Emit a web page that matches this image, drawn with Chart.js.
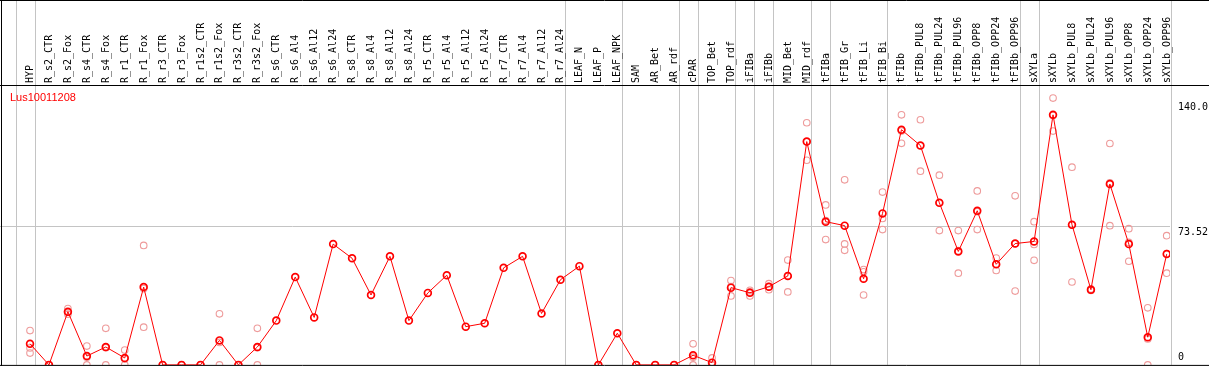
<!DOCTYPE html>
<html>
<head>
<meta charset="utf-8">
<script src="https://cdn.jsdelivr.net/npm/chart.js@4"></script>
<style>
  html, body { margin: 0; padding: 0; background: #fff; }
  #chart { display: block; }
</style>
</head>
<body>
<canvas id="chart" width="1209" height="370"></canvas>
<script>
const geneName = "Lus10011208";

const samples = [
  "HYP", "R_s2_CTR", "R_s2_Fox", "R_s4_CTR", "R_s4_Fox", "R_r1_CTR", "R_r1_Fox",
  "R_r3_CTR", "R_r3_Fox", "R_r1s2_CTR", "R_r1s2_Fox", "R_r3s2_CTR", "R_r3s2_Fox",
  "R_s6_CTR", "R_s6_Al4", "R_s6_Al12", "R_s6_Al24", "R_s8_CTR", "R_s8_Al4",
  "R_s8_Al12", "R_s8_Al24", "R_r5_CTR", "R_r5_Al4", "R_r5_Al12", "R_r5_Al24",
  "R_r7_CTR", "R_r7_Al4", "R_r7_Al12", "R_r7_Al24", "LEAF_N", "LEAF_P", "LEAF_NPK",
  "SAM", "AR_Bet", "AR_rdf", "cPAR", "TOP_Bet", "TOP_rdf", "iFIBa", "iFIBb",
  "MID_Bet", "MID_rdf", "tFIBa", "tFIB_Gr", "tFIB_Li", "tFIB_Bi", "tFIBb",
  "tFIBb_PUL8", "tFIBb_PUL24", "tFIBb_PUL96", "tFIBb_OPP8", "tFIBb_OPP24", "tFIBb_OPP96",
  "sXYLa", "sXYLb", "sXYLb_PUL8", "sXYLb_PUL24", "sXYLb_PUL96", "sXYLb_OPP8",
  "sXYLb_OPP24", "sXYLb_OPP96"
];

// mean expression per sample
const meanValues = [
  11.2, 0, 28.2, 4.7, 9.5, 3.7, 41.3, 0, 0, 0, 13.0, 0, 9.5,
  23.5, 46.6, 25.2, 64.1, 56.6, 37.1, 57.6, 23.5, 38.2, 47.6, 20.3, 22.1,
  51.5, 57.6, 27.3, 45.2, 52.4, 0, 16.8, 0, 0, 0, 5.1, 1.2, 41.0, 38.3, 41.5,
  47.2, 118.5, 76.0, 73.9, 45.7, 80.4, 124.8, 116.4, 86.0, 60.2, 81.8, 53.4, 64.4,
  65.5, 132.7, 74.4, 39.9, 96.0, 64.1, 14.7, 58.8
];

// replicates (null = no replicate shown)
const repA = [
  18.2, 0, 29.9, 10.0, 19.4, 7.9, 63.4, 0, 0, 0, 27.1, 0, 19.4,
  null, null, null, null, null, null, null, null, null, null, null, null,
  null, null, null, null, null, 0, null, 0, 0, 0, 11.2, 3.7, 44.8, 39.6, 43.1,
  55.6, 128.5, 84.9, 98.2, 50.6, 91.7, 132.7, 130.1, 100.7, 71.3, 92.3, 56.7, 89.7,
  76.0, 141.6, 104.9, 40.3, 117.5, 72.3, 30.3, 68.6
];
const repB = [
  6.3, 0, 26.9, 0, 0, 0, 20.0, 0, 0, 0, 0, 0, 0,
  null, null, null, null, null, null, null, null, null, null, null, null,
  null, null, null, null, null, 0, null, 0, 0, 0, 0, 0, 36.6, 36.6, 39.9,
  38.7, 108.6, 66.5, 60.8, 37.1, 71.8, 117.6, 102.8, 71.3, 48.7, 71.8, 50.1, 39.2,
  55.5, 124.1, 44.0, 39.5, 73.9, 55.0, 0, 48.7
];
const repC = [
  9.0, 0, 27.8, 4.1, 9.1, 3.2, 40.5, 0, 0, 0, 11.9, 0, 9.1,
  null, null, null, null, null, null, null, null, null, null, null, null,
  null, null, null, null, null, 0, null, 0, 0, 0, 4.1, 0, 41.6, 38.7, 41.5,
  47.3, 118.4, 76.6, 64.2, 49.4, 77.7, 124.1, 116.3, 86.0, 60.6, 81.3, 53.4, 64.3,
  63.9, 132.4, 74.3, 39.9, 96.6, 65.0, 13.8, 59.1
];

// last sample index of each group (separator lines)
const groupEnds = [-1, 0, 28, 31, 34, 35, 37, 38, 39, 41, 42, 45, 52, 53, 60];

const yTicks = [0, 73.52, 140];
const yTickLabels = ["0", "73.52", "140.0"];

const toPoints = (arr) =>
  arr.map((v, i) => (v === null ? null : { x: i, y: v })).filter((p) => p);

const framePlugin = {
  id: "frame",
  beforeDraw(chart) {
    const { ctx, width, height } = chart;
    ctx.save();
    ctx.fillStyle = "#fff";
    ctx.fillRect(0, 0, width, height);
    ctx.restore();
  },
  beforeDatasetsDraw(chart) {
    const { ctx, chartArea, scales } = chart;
    const x = scales.x;
    const y = scales.y;
    ctx.save();
    ctx.strokeStyle = "#c4c4c4";
    ctx.lineWidth = 1;
    ctx.beginPath();
    const gy = Math.round(y.getPixelForValue(yTicks[1])) + 0.5;
    ctx.moveTo(0, gy);
    ctx.lineTo(chartArea.right, gy);
    groupEnds.forEach((i) => {
      const px = Math.round(x.getPixelForValue(i) + 4.5) + 0.5;
      ctx.moveTo(px, 0);
      ctx.lineTo(px, chartArea.bottom);
    });
    ctx.stroke();
    ctx.restore();
  },
  afterDraw(chart) {
    const { ctx, chartArea, width, scales } = chart;
    const x = scales.x;
    const y = scales.y;
    ctx.save();

    // black frame lines
    ctx.strokeStyle = "#000";
    ctx.lineWidth = 1;
    ctx.beginPath();
    ctx.moveTo(0, 0.5);
    ctx.lineTo(width, 0.5);
    ctx.moveTo(0, 85.5);
    ctx.lineTo(width, 85.5);
    ctx.moveTo(0, chartArea.bottom + 0.5);
    ctx.lineTo(width, chartArea.bottom + 0.5);
    ctx.moveTo(1.5, 0);
    ctx.lineTo(1.5, chartArea.bottom + 1);
    ctx.stroke();

    // sample names, rotated
    ctx.fillStyle = "#000";
    ctx.font = '10px "DejaVu Sans Mono"';
    ctx.textAlign = "left";
    ctx.textBaseline = "middle";
    samples.forEach((name, i) => {
      ctx.save();
      ctx.translate(Math.round(x.getPixelForValue(i)), 83);
      ctx.rotate(-Math.PI / 2);
      ctx.fillText(name, 0, 0);
      ctx.restore();
    });

    // gene name
    ctx.fillStyle = "#ff0000";
    ctx.font = '11px "Liberation Sans"';
    ctx.textBaseline = "alphabetic";
    ctx.fillText(geneName, 10, 101);

    // y tick labels on the right
    ctx.fillStyle = "#000";
    ctx.font = '10px "DejaVu Sans Mono"';
    ctx.textBaseline = "top";
    yTicks.forEach((v, i) => {
      const py = Math.min(y.getPixelForValue(v) + 1.5, chartArea.bottom - 12);
      ctx.fillText(yTickLabels[i], chartArea.right + 8, py);
    });
    ctx.restore();
  },
};

const repDataset = (arr) => ({
  data: toPoints(arr),
  showLine: false,
  pointStyle: "circle",
  pointRadius: 3.3,
  pointHoverRadius: 3.3,
  pointBorderWidth: 1.1,
  pointBorderColor: "rgb(238,155,155)",
  pointBackgroundColor: "rgba(0,0,0,0)",
});

new Chart(document.getElementById("chart").getContext("2d"), {
  type: "line",
  data: {
    datasets: [
      {
        data: toPoints(meanValues),
        borderColor: "#ff0000",
        borderWidth: 1,
        tension: 0,
        pointStyle: "circle",
        pointRadius: 3.4,
        pointHoverRadius: 3.4,
        pointBorderWidth: 1.7,
        pointBorderColor: "#ff0000",
        pointBackgroundColor: "rgba(0,0,0,0)",
      },
      repDataset(repA),
      repDataset(repB),
      repDataset(repC),
    ],
  },
  options: {
    responsive: false,
    animation: false,
    events: [],
    layout: { padding: { left: 1, right: 39, top: 86, bottom: 1 } },
    scales: {
      x: { type: "linear", min: -1.315, max: 60.174, display: false },
      y: { type: "linear", min: 0, max: 148, display: false },
    },
    plugins: {
      legend: { display: false },
      tooltip: { enabled: false },
    },
  },
  plugins: [framePlugin],
});
</script>
</body>
</html>
